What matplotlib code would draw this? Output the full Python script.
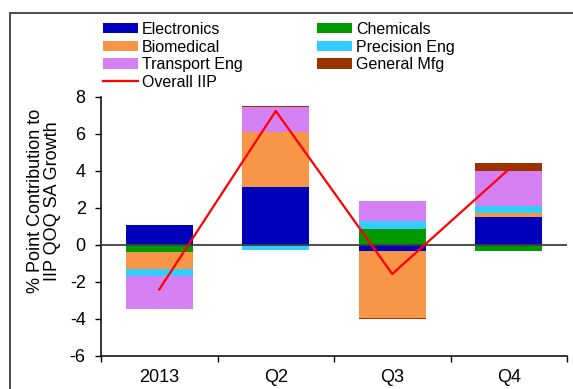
import numpy as np
import matplotlib
matplotlib.use("Agg")
import matplotlib.pyplot as plt
from matplotlib.patches import Rectangle
from matplotlib.lines import Line2D

plt.rcParams['font.family'] = ['Liberation Sans', 'DejaVu Sans']
plt.rcParams['axes.unicode_minus'] = False

categories = ['2013', 'Q2', 'Q3', 'Q4']
series_names = ['Electronics', 'Chemicals', 'Biomedical', 'Precision Eng', 'Transport Eng', 'General Mfg']
electronics = [1.06, 3.15, -0.34, 1.48]
chemicals = [-0.40, -0.08, 0.88, -0.34]
biomedical = [-0.91, 2.97, -3.62, 0.22]
precision = [-0.35, -0.20, 0.43, 0.38]
transport = [-1.81, 1.33, 1.06, 1.91]
general_mfg = [0.02, 0.07, -0.04, 0.43]
overall_iip = [-2.41, 7.23, -1.57, 4.08]

series_values = [electronics, chemicals, biomedical, precision, transport, general_mfg]
colors = ['#0000BB', '#009900', '#F79646', '#33CCFF', '#D47FF2', '#993300']

W, H = 573, 389
fig = plt.figure(figsize=(W / 100, H / 100), dpi=100)
ax = fig.add_axes([101 / W, 1 - 356 / H, 466 / W, (356 - 96.7) / H])

x = np.arange(len(categories))
pos_bottom = np.zeros(len(categories))
neg_bottom = np.zeros(len(categories))
handles = {}
for name, vals, c in zip(series_names, series_values, colors):
    v = np.array(vals, dtype=float)
    bottoms = np.where(v >= 0, pos_bottom, neg_bottom)
    ax.bar(x, v, bottom=bottoms, width=0.575, color=c, edgecolor='none', zorder=2)
    pos_bottom = pos_bottom + np.where(v >= 0, v, 0)
    neg_bottom = neg_bottom + np.where(v < 0, v, 0)
    handles[name] = Rectangle((0, 0), 1, 1, facecolor=c, edgecolor='none')

ax.axhline(0, color='#404040', lw=1.3, zorder=3)
ax.plot(x, overall_iip, color='#FF0000', lw=1.6, zorder=4)

ax.set_xlim(-0.5, len(categories) - 0.5)
ax.set_ylim(-6, 8)
ax.set_yticks(np.arange(-6, 9, 2))
ax.set_xticks(np.arange(-0.5, len(categories), 1.0))
ax.set_xticklabels([])
ax.set_xticks(x, minor=True)
ax.set_xticklabels(categories, minor=True)
ax.tick_params(axis='x', which='minor', length=0, pad=9, labelsize=13)
ax.tick_params(axis='x', which='major', direction='out', length=4, width=1)
ax.tick_params(axis='y', direction='out', length=4, width=1, pad=7, labelsize=13)
for s in ['top', 'right']:
    ax.spines[s].set_visible(False)
for s in ['left', 'bottom']:
    ax.spines[s].set_linewidth(1.1)
    ax.spines[s].set_color('black')

fig.text(44 / W, 1 - 201 / H, '% Point Contribution to\nIIP QOQ SA Growth',
         rotation=90, ha='center', va='center', multialignment='center',
         fontsize=13, linespacing=1.0)

line_handle = Line2D([0], [0], color='#FF0000', lw=1.6)
leg_kw = dict(frameon=False, loc='upper left', fontsize=11.5, borderpad=0, borderaxespad=0,
              handlelength=2.2, handleheight=0.6, handletextpad=0.25, labelspacing=0.16)
fig.legend([handles['Electronics'], handles['Biomedical'], handles['Transport Eng'], line_handle],
           ['Electronics', 'Biomedical', 'Transport Eng', 'Overall IIP'],
           bbox_to_anchor=(103 / W, 1 - 22 / H), **leg_kw)
fig.legend([handles['Chemicals'], handles['Precision Eng'], handles['General Mfg']],
           ['Chemicals', 'Precision Eng', 'General Mfg'],
           bbox_to_anchor=(317 / W, 1 - 22 / H), **leg_kw)

fig.patches.append(Rectangle((10 / W, -0.1), 1.2, 1 - 13 / H + 0.1, transform=fig.transFigure,
                             fill=False, edgecolor='#404040', lw=1.3))

fig.savefig('out.png', dpi=100)
